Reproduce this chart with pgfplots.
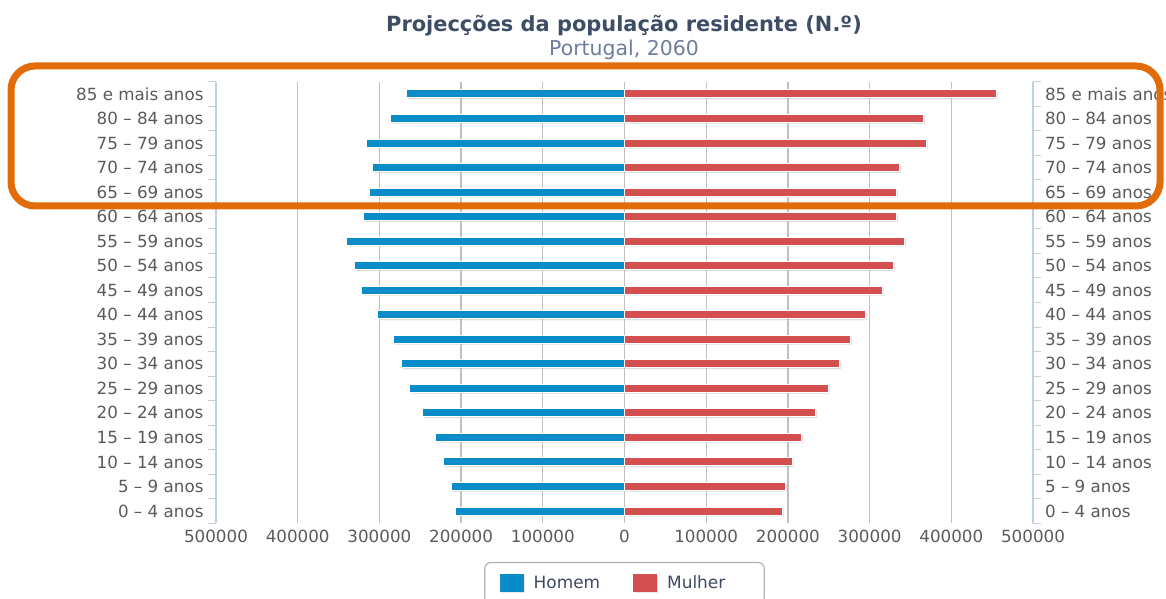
\documentclass[border=0pt]{standalone}
\usepackage{pgfplots}
\pgfplotsset{compat=1.18}
\usepackage{pgfplotstable}
\usepackage{fontspec}
\setmainfont{DejaVu Sans}
\usetikzlibrary{shadows}
\definecolor{homem}{RGB}{10,140,200}
\definecolor{mulher}{RGB}{212,80,80}
\definecolor{axisblue}{RGB}{192,208,224}
\definecolor{gridgrey}{RGB}{192,192,192}
\definecolor{labelgrey}{RGB}{90,90,90}
\definecolor{legendtext}{RGB}{62,72,100}
\definecolor{titlecol}{RGB}{62,77,102}
\definecolor{subcol}{RGB}{110,125,155}
\definecolor{frameorange}{RGB}{227,108,10}

\pgfplotstableread{
idx homem mulher
0 -206600 193100
1 -212300 196800
2 -222100 205400
3 -231900 216800
4 -247800 233900
5 -262900 249500
6 -272700 263300
7 -282500 276800
8 -302100 294800
9 -321700 315600
10 -331000 329100
11 -340800 342900
12 -319600 333100
13 -312300 333100
14 -308200 336800
15 -315600 369500
16 -286600 366200
17 -267400 455200
}\popdata

\def\agelabels{0 – 4 anos,5 – 9 anos,10 – 14 anos,15 – 19 anos,20 – 24 anos,25 – 29 anos,30 – 34 anos,35 – 39 anos,40 – 44 anos,45 – 49 anos,50 – 54 anos,55 – 59 anos,60 – 64 anos,65 – 69 anos,70 – 74 anos,75 – 79 anos,80 – 84 anos,85 e mais anos}

\begin{document}
\begin{tikzpicture}[x=1bp,y=1bp]
\useasboundingbox (0,0) rectangle (1166,599);
\clip (0,0) rectangle (1166,599);

\pgfplotsset{
  pyr/.style={
    at={(216bp,75.7bp)}, anchor=south west,
    scale only axis, width=817bp, height=441.6bp,
    xmin=-500000, xmax=500000, ymin=-0.5, ymax=17.5,
    scaled x ticks=false,
    ytick={0,...,17},
    minor ytick={-0.5,0.5,...,17.5},
    major tick length=0pt, minor tick length=8bp, tick align=outside,
    minor tick style={axisblue, line width=1bp},
    ticklabel style={font=\fontsize{16.8}{19}\selectfont, text=labelgrey},
    y axis line style={-, axisblue, line width=1.2bp},
  }
}

\begin{axis}[pyr,
  separate axis lines,
  axis y line*=left, axis x line*=bottom,
  x axis line style={draw=none},
  xtick={-500000,-400000,...,500000},
  xticklabels={500000,400000,300000,200000,100000,0,100000,200000,300000,400000,500000},
  xticklabel style={yshift=-3bp},
  xmajorgrids, grid style={gridgrey, line width=1.3bp},
  yticklabels/.expand once={\agelabels},
  yticklabel style={xshift=-9bp},
  xbar, bar width=8bp,
  legend columns=2,
  legend style={at={(axis description cs:0.5,-0.0876)}, anchor=north,
    draw=gray!60, rounded corners=6bp, line width=1.2bp,
    font=\fontsize{17}{20}\selectfont, text=legendtext,
    inner xsep=15bp, inner ysep=11bp,
    /tikz/every even column/.append style={column sep=31bp}},
]
\addplot[xbar, bar shift=0pt, fill=homem, draw=white, line width=1bp,
  drop shadow={opacity=0.25, shadow xshift=1.5bp, shadow yshift=-1.5bp},
  legend image code/.code={\fill[homem, sharp corners] (0bp,-8bp) rectangle (23bp,9bp); \path (31bp,0bp);}]
  table[x=homem, y=idx] {\popdata};
\addlegendentry{Homem}
\addplot[xbar, bar shift=0pt, fill=mulher, draw=white, line width=1bp,
  drop shadow={opacity=0.25, shadow xshift=1.5bp, shadow yshift=-1.5bp},
  legend image code/.code={\fill[mulher, sharp corners] (0bp,-8bp) rectangle (23bp,9bp); \path (31bp,0bp);}]
  table[x=mulher, y=idx] {\popdata};
\addlegendentry{Mulher\makebox[22bp]{}}
\end{axis}

\begin{axis}[pyr,
  separate axis lines,
  axis y line*=right, axis x line=none,
  yticklabels/.expand once={\agelabels},
  yticklabel style={anchor=west, xshift=8.5bp},
]
\addplot[draw=none] coordinates {(0,0)};
\end{axis}

\node[font=\bfseries\fontsize{21}{25}\selectfont, text=titlecol] at (624,573) {Projecções da população residente (N.º)};
\node[font=\fontsize{20.5}{24}\selectfont, text=subcol] at (624,549) {Portugal, 2060};

\draw[frameorange, line width=7bp, rounded corners=24bp] (11,533) rectangle (1160,393);
\end{tikzpicture}
\end{document}
